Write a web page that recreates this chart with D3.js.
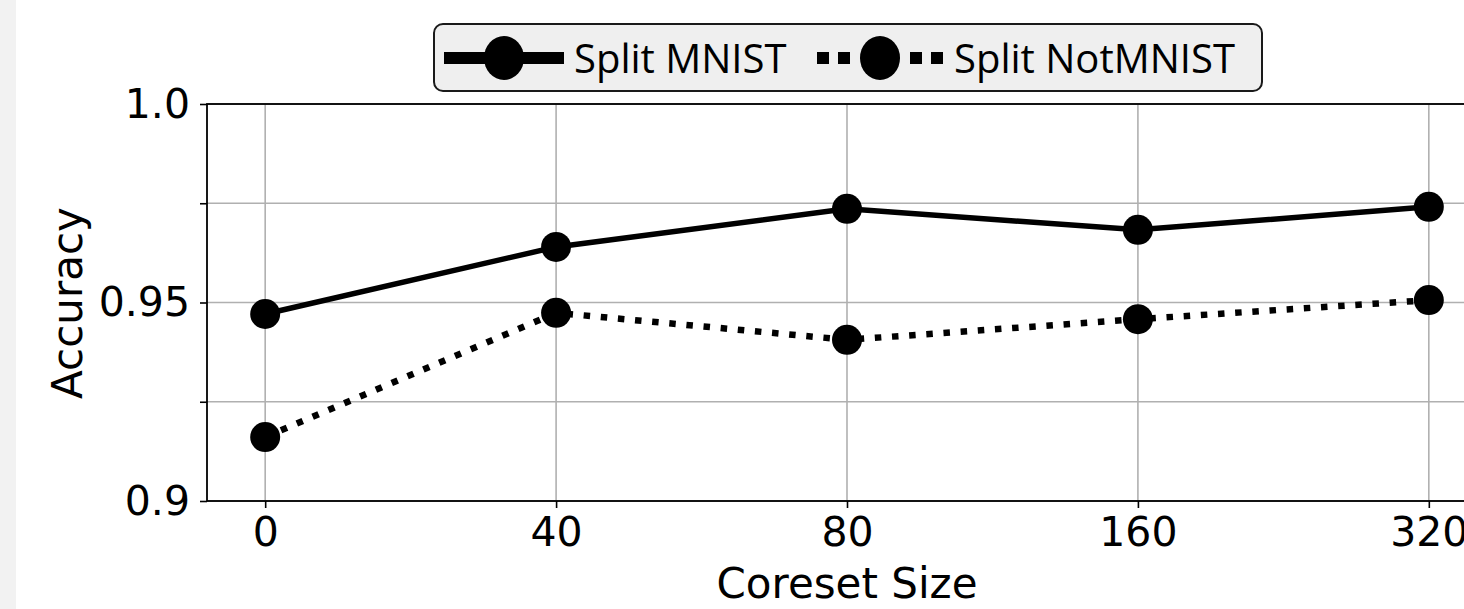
<!DOCTYPE html>
<html>
<head>
<meta charset="utf-8">
<script src="https://cdn.jsdelivr.net/npm/d3@7"></script>
<style>
  html, body { margin: 0; padding: 0; background: #fff; }
  #chart { width: 1464px; height: 609px; }
</style>
</head>
<body>
<div id="chart"></div>
<script>
const coresetSizes = ["0", "40", "80", "160", "320"];
const splitMnist = [0.9471, 0.9640, 0.9736, 0.9683, 0.9741];
const splitNotMnist = [0.9161, 0.9474, 0.9406, 0.9458, 0.9506];
const yTicks = [0.9, 0.925, 0.95, 0.975, 1.0];
const yTickLabels = ["0.9", "", "0.95", "", "1.0"];

const width = 1464, height = 609;
const plotLeft = 207, plotTop = 104, plotBottom = 501, plotRight = 1487;

const svg = d3.select("#chart").append("svg")
  .attr("width", width)
  .attr("height", height);

// grey strip on the left edge of the picture
svg.append("rect").attr("x", 0).attr("y", 0).attr("width", 16).attr("height", height).attr("fill", "#f2f2f2");

const x = d3.scaleLinear().domain([-0.2, 4.2]).range([plotLeft, plotRight]);
const y = d3.scaleLinear().domain([0.9, 1.0]).range([plotBottom, plotTop]);

// grid
const grid = svg.append("g").attr("stroke", "#b0b0b0").attr("stroke-width", 1.6);
grid.selectAll("line.v").data(coresetSizes).enter().append("line")
  .attr("x1", (d, i) => x(i)).attr("x2", (d, i) => x(i))
  .attr("y1", plotTop).attr("y2", plotBottom);
grid.selectAll("line.h").data(yTicks).enter().append("line")
  .attr("x1", plotLeft).attr("x2", plotRight)
  .attr("y1", d => y(d)).attr("y2", d => y(d));

// axes
const xAxis = svg.append("g")
  .attr("transform", `translate(0,${plotBottom})`)
  .call(d3.axisBottom(x).tickValues(d3.range(coresetSizes.length)).tickFormat(i => coresetSizes[i]).tickSize(7).tickPadding(9));
const yAxis = svg.append("g")
  .attr("transform", `translate(${plotLeft},0)`)
  .call(d3.axisLeft(y).tickValues(yTicks).tickFormat((d, i) => yTickLabels[i]).tickSize(7).tickPadding(10));

[xAxis, yAxis].forEach(a => {
  a.select(".domain").remove();
  a.selectAll(".tick line").attr("stroke", "#000").attr("stroke-width", 1.6);
  a.selectAll("text")
    .attr("fill", "#000")
    .style("font-family", "DejaVu Sans")
    .style("font-size", "41px");
});

// frame
svg.append("rect")
  .attr("x", plotLeft).attr("y", plotTop)
  .attr("width", plotRight - plotLeft).attr("height", plotBottom - plotTop)
  .attr("fill", "none").attr("stroke", "#000").attr("stroke-width", 1.8);

// series
const line = d3.line().x((d, i) => x(i)).y(d => y(d));

svg.append("path").datum(splitNotMnist)
  .attr("d", line).attr("fill", "none").attr("stroke", "#000")
  .attr("stroke-width", 6.5).attr("stroke-dasharray", "6.5,10.7");
svg.append("path").datum(splitMnist)
  .attr("d", line).attr("fill", "none").attr("stroke", "#000")
  .attr("stroke-width", 5.5);

[splitMnist, splitNotMnist].forEach(series => {
  svg.append("g").selectAll("circle").data(series).enter().append("circle")
    .attr("cx", (d, i) => x(i)).attr("cy", d => y(d)).attr("r", 15).attr("fill", "#000");
});

// axis labels
svg.append("text")
  .attr("x", x(2)).attr("y", 598)
  .attr("text-anchor", "middle")
  .style("font-family", "DejaVu Sans").style("font-size", "42px")
  .text("Coreset Size");

svg.append("text")
  .attr("transform", "translate(82,303) rotate(-90)")
  .attr("text-anchor", "middle")
  .style("font-family", "DejaVu Sans").style("font-size", "42px")
  .text("Accuracy");

// legend
const legend = svg.append("g").attr("transform", "translate(434,24)");
legend.append("rect")
  .attr("x", 0).attr("y", 0).attr("width", 828).attr("height", 67).attr("rx", 9)
  .attr("fill", "#efefef").attr("stroke", "#1a1a1a").attr("stroke-width", 2);

const legendItems = [
  { name: "Split MNIST", dotted: false, lineFrom: 10, lineTo: 130, marker: 70, textX: 140 },
  { name: "Split NotMNIST", dotted: true, lineFrom: 383, lineTo: 510, marker: 446, textX: 520 }
];
const ly = 34;
legendItems.forEach(it => {
  if (it.dotted) {
    [[it.lineFrom, it.marker - 30], [it.marker + 30, it.lineTo]].forEach(([a, b]) => {
      legend.append("line").attr("x1", a).attr("x2", b).attr("y1", ly).attr("y2", ly)
        .attr("stroke", "#000").attr("stroke-width", 12).attr("stroke-dasharray", "12,9");
    });
  } else {
    legend.append("line").attr("x1", it.lineFrom).attr("x2", it.lineTo).attr("y1", ly).attr("y2", ly)
      .attr("stroke", "#000").attr("stroke-width", 12);
  }
  legend.append("ellipse").attr("cx", it.marker).attr("cy", ly).attr("rx", 20).attr("ry", 22).attr("fill", "#000");
  legend.append("text").attr("x", it.textX).attr("y", 49)
    .style("font-family", "Open Sans").style("font-size", "40px")
    .attr("fill", "#000")
    .text(it.name);
});
</script>
</body>
</html>
